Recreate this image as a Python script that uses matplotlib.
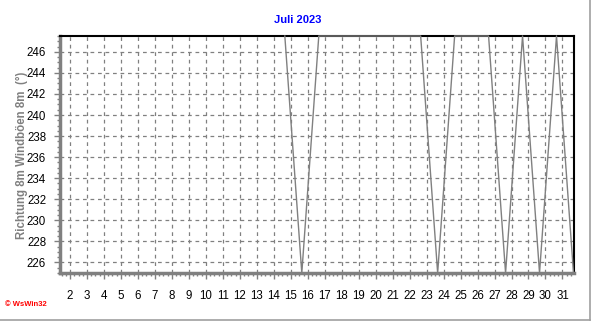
import numpy as np
import matplotlib.pyplot as plt
from matplotlib.ticker import MultipleLocator
from matplotlib.lines import Line2D

# daily wind direction of gusts (deg), readings near end of each day
days = [14, 15, 16, 17, 18, 19, 20, 21, 22, 23, 24, 25, 26, 27, 28, 29, 30, 31]
direction = [247.5, 225, 247.5, 247.5, 247.5, 247.5, 247.5, 247.5, 247.5,
             225, 247.5, 247.5, 247.5, 225, 247.5, 225, 247.5, 225]
day_ticks = list(range(2, 32))
dir_ticks = list(range(226, 247, 2))

plt.rcParams['font.family'] = ['Liberation Sans', 'DejaVu Sans']

fig = plt.figure(figsize=(5.92, 3.21), dpi=100)
ax = fig.add_axes([60/592, 1 - 273/321, 514/592, 237/321])

x = np.array(days) + 0.65
ax.plot(x, direction, color='#808080', lw=1.0, clip_on=False, zorder=3)

ax.set_xlim(1.41, 31.68)
ax.set_ylim(225, 247.5)

ax.set_xticks(day_ticks)
ax.set_xticklabels([str(d) for d in day_ticks])
ax.xaxis.set_minor_locator(MultipleLocator(0.25))
ax.set_yticks(dir_ticks)
ax.yaxis.set_minor_locator(MultipleLocator(0.5))

ax.grid(True, which='major', color='#808080', ls=(0, (3, 3)), lw=0.9)
ax.tick_params(which='major', direction='out', length=4, width=1,
               color='#808080', labelsize=8.3, pad=6)
ax.tick_params(which='minor', direction='out', length=2, width=1, color='#808080')
ax.tick_params(axis='x', which='major', pad=8)

for s in ['left', 'bottom']:
    ax.spines[s].set_color('#808080')
    ax.spines[s].set_linewidth(2.5)
for s in ['top', 'right']:
    ax.spines[s].set_color('black')
    ax.spines[s].set_linewidth(1.5)

fig.text(298/592, 1 - 20/321, 'Juli 2023', color='#0000ff', fontweight='bold',
         fontsize=8, ha='center', va='center')
fig.text(22/592, 1 - 155/321, 'Richtung 8m Windböen 8m  (°)', color='#808080',
         fontweight='bold', fontsize=8.3, rotation=90, ha='center', va='center')
fig.text(5/592, 1 - 305/321, '© WsWin32', color='red', fontweight='bold',
         fontsize=5.5, ha='left', va='center')

# window frame lines at bottom and right
fig.add_artist(Line2D([0, 590/592], [1.5/321, 1.5/321], color='#a0a0a0', lw=1.2))
fig.add_artist(Line2D([589.5/592, 589.5/592], [1.5/321, 1], color='#a0a0a0', lw=1.2))

fig.savefig('out.png', dpi=100)
